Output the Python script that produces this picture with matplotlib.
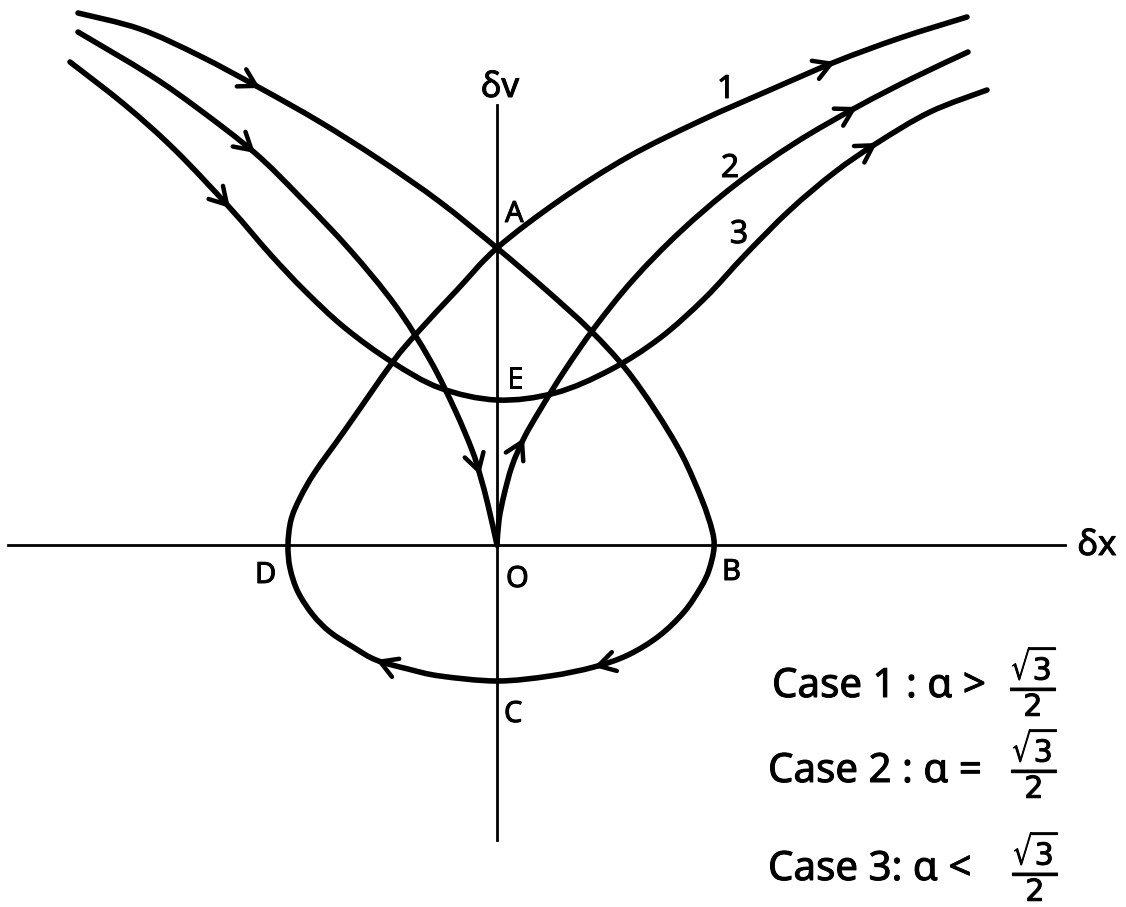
import numpy as np
import matplotlib
matplotlib.use('Agg')
import matplotlib.pyplot as plt
import matplotlib.patheffects as pe
from matplotlib.path import Path
from matplotlib.patches import PathPatch, FancyArrowPatch

plt.rcParams['font.family'] = ['Noto Sans', 'DejaVu Sans']
plt.rcParams['mathtext.fontset'] = 'dejavusans'

# ---- data (phase-plane units, origin at O) ----
# Trajectory 1: comes in from upper left, passes A, goes round the loop A-B-C-D-A, leaves to upper right
curve1_x = [-4.19, -3.57, -2.97, -2.37, -1.77, -1.17, -0.57, 0.00, 0.48, 0.93, 1.28, 1.58, 1.85,
            2.05, 2.15, 2.17, 2.12, 2.04, 1.87, 1.62, 1.31, 0.97, 0.53, 0.00, -0.57, -0.89,
            -1.21, -1.44, -1.67, -1.84, -1.99, -2.07, -2.09, -2.06, -1.97, -1.82, -1.52, -1.05,
            -0.80, -0.40, 0.00, 0.63, 1.31, 2.03, 2.73, 3.38, 4.03, 4.70]
curve1_y = [5.32, 5.16, 4.89, 4.57, 4.23, 3.85, 3.43, 2.97, 2.56, 2.15, 1.77, 1.35, 0.90,
            0.45, 0.15, -0.03, -0.25, -0.42, -0.67, -0.91, -1.10, -1.22, -1.31, -1.36, -1.31, -1.24,
            -1.15, -1.02, -0.87, -0.70, -0.47, -0.23, 0.00, 0.25, 0.47, 0.73, 1.15, 1.82,
            2.12, 2.55, 2.97, 3.45, 3.88, 4.24, 4.55, 4.83, 5.07, 5.28]

# Trajectory 2: into O (cusp) and out of O
curve2a_x = [-4.19, -3.47, -2.97, -2.42, -1.97, -1.47, -1.02, -0.67, -0.42, -0.25, -0.17, -0.09, 0.00]
curve2a_y = [5.13, 4.70, 4.35, 3.92, 3.48, 2.95, 2.40, 1.85, 1.35, 0.95, 0.70, 0.40, 0.00]
curve2b_x = [0.00, 0.02, 0.07, 0.15, 0.27, 0.43, 0.68, 0.98, 1.36, 1.83, 2.38, 2.98, 3.60, 4.16, 4.71]
curve2b_y = [0.00, 0.25, 0.50, 0.79, 1.07, 1.35, 1.75, 2.18, 2.65, 3.13, 3.60, 4.02, 4.38, 4.67, 4.93]

# Trajectory 3: passes through E
curve3_x = [-4.27, -3.72, -3.22, -2.67, -2.27, -1.92, -1.52, -1.05, -0.57, 0.00, 0.58, 1.13, 1.63,
            2.08, 2.48, 2.93, 3.38, 3.80, 4.33, 4.90]
curve3_y = [4.83, 4.40, 3.95, 3.37, 2.91, 2.54, 2.17, 1.83, 1.57, 1.45, 1.52, 1.75, 2.07,
            2.47, 2.90, 3.35, 3.73, 4.02, 4.33, 4.55]

# arrow tips (on the trajectories, pointing along the motion)
arrows1 = [(-2.37, 4.57), (0.97, -1.22), (-1.21, -1.15), (3.38, 4.83)]
arrows2a = [(-2.42, 3.92), (-0.17, 0.70)]
arrows2b = [(0.27, 1.07), (3.60, 4.38)]
arrows3 = [(-2.67, 3.37), (3.80, 4.02)]

# coordinate axes
haxis_x = [-4.89, 5.68]
vaxis_y = [-2.95, 4.40]

point_labels = ['A', 'E', 'O', 'B', 'D', 'C']
point_label_x = [0.08, 0.10, 0.09, 2.25, -2.42, 0.07]
point_label_y = [3.23, 1.57, -0.42, -0.35, -0.38, -1.77]

curve_labels = ['1', '2', '3']
curve_label_x = [2.29, 2.33, 2.42]
curve_label_y = [4.47, 3.68, 3.02]

case_texts = ['Case 1 : α >', 'Case 2 : α =', 'Case 3: α <']
case_x = [2.75, 2.71, 2.71]
case_y = [-1.52, -2.37, -3.35]
frac_x = [5.37, 5.38, 5.39]
frac_y = [-1.36, -2.18, -3.21]

LW = 4.0
BOLDEN = [pe.withStroke(linewidth=0.7, foreground='black')]


def smooth_path(xs, ys):
    P = np.column_stack([xs, ys]).astype(float)
    n = len(P)
    ext = np.vstack([P[0], P, P[-1]])
    verts = [P[0]]
    codes = [Path.MOVETO]
    for i in range(n - 1):
        p0, p1, p2, p3 = ext[i], ext[i + 1], ext[i + 2], ext[i + 3]
        c1 = p1 + (p2 - p0) / 6.0
        c2 = p2 - (p3 - p1) / 6.0
        verts += [c1, c2, p2]
        codes += [Path.CURVE4] * 3
    return Path(verts, codes)


def draw_curve(ax, xs, ys, tips):
    ax.add_patch(PathPatch(smooth_path(xs, ys), fill=False, lw=LW, color='black',
                           capstyle='round', joinstyle='round'))
    P = np.column_stack([xs, ys])
    for tx, ty in tips:
        t = np.array([tx, ty])
        i = int(np.argmin(np.hypot(P[:, 0] - tx, P[:, 1] - ty)))
        a = P[max(i - 1, 0)]
        b = P[min(i + 1, len(P) - 1)]
        d = (b - a) / np.hypot(*(b - a))
        arr = FancyArrowPatch(posA=tuple(t - 0.05 * d), posB=tuple(t),
                              arrowstyle='->,head_length=0.6,head_width=0.35',
                              mutation_scale=20, lw=3.2, color='black',
                              shrinkA=0, shrinkB=0)
        ax.add_patch(arr)


fig = plt.figure(figsize=(11.26, 9.07), dpi=100)
ax = fig.add_axes([0, 0, 1, 1])
ax.set_xlim(-4.97, 6.29)
ax.set_ylim(-3.62, 5.45)
ax.axis('off')

ax.plot(haxis_x, [0, 0], color='black', lw=2.0)
ax.plot([0, 0], vaxis_y, color='black', lw=2.0)

draw_curve(ax, curve1_x, curve1_y, arrows1)
draw_curve(ax, curve2a_x, curve2a_y, arrows2a)
draw_curve(ax, curve2b_x, curve2b_y, arrows2b)
draw_curve(ax, curve3_x, curve3_y, arrows3)

ax.text(0.03, 4.48, 'δv', fontsize=25, ha='center', va='baseline', path_effects=BOLDEN)
ax.text(6.00, -0.10, 'δx', fontsize=25, ha='center', va='baseline', path_effects=BOLDEN)

for s, x, y in zip(point_labels, point_label_x, point_label_y):
    ax.text(x, y, s, fontsize=21, ha='left', va='baseline', path_effects=BOLDEN)
for s, x, y in zip(curve_labels, curve_label_x, curve_label_y):
    ax.text(x, y, s, fontsize=23, ha='center', va='baseline', path_effects=BOLDEN)

for s, x, y in zip(case_texts, case_x, case_y):
    ax.text(x, y, s, fontsize=29, ha='left', va='baseline', path_effects=BOLDEN)
for x, y in zip(frac_x, frac_y):
    ax.text(x, y, r'$\frac{\sqrt{3}}{2}$', fontsize=31, ha='center', va='center',
            path_effects=BOLDEN)

fig.savefig('out.png', dpi=100, facecolor='white')
